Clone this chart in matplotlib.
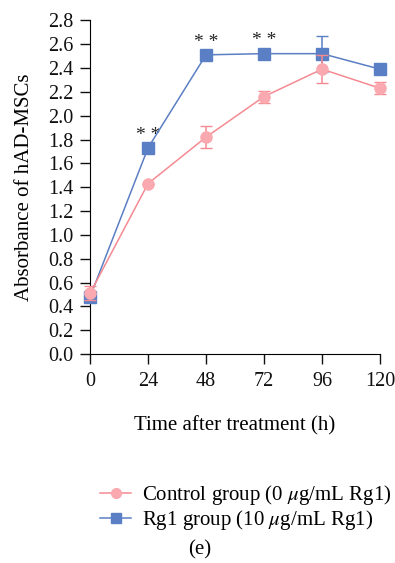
import numpy as np
import matplotlib
matplotlib.use("Agg")
import matplotlib.pyplot as plt
from matplotlib.lines import Line2D

plt.rcParams['font.family'] = ['Liberation Serif', 'DejaVu Serif']
plt.rcParams['mathtext.fontset'] = 'stix'

hours = [0, 24, 48, 72, 96, 120]
control = [0.51, 1.43, 1.82, 2.16, 2.39, 2.23]
control_err = [0.06, 0.0, 0.09, 0.05, 0.12, 0.05]
rg1 = [0.48, 1.73, 2.51, 2.52, 2.52, 2.39]
rg1_err = [0.0, 0.0, 0.0, 0.0, 0.15, 0.0]
stars_at = [24, 48, 72]
yticks = [0.0, 0.2, 0.4, 0.6, 0.8, 1.0, 1.2, 1.4, 1.6, 1.8, 2.0, 2.2, 2.4, 2.6, 2.8]

blue = '#5b7fc4'
pink_line = '#f58a92'
pink_mark = '#f9a9af'

fig = plt.figure(figsize=(3.95, 5.63), dpi=100)
ax = fig.add_axes([0.228, 0.371, 0.734, 0.593])

ax.errorbar(hours, rg1, yerr=rg1_err, color=blue, lw=1.1, marker='s', ms=8.5,
            mfc=blue, mec=blue, capsize=4, elinewidth=1.1, zorder=3, clip_on=False)
ax.errorbar(hours, control, yerr=control_err, color=pink_line, lw=1.1, marker='o', ms=8,
            mfc=pink_mark, mec=pink_mark, capsize=4, elinewidth=1.1, zorder=4, clip_on=False)

for h in stars_at:
    i = hours.index(h)
    ax.text(h, rg1[i] + 0.035, '* *', ha='center', va='bottom', fontsize=14, color='#222222')

ax.set_xlim(0, 120)
ax.set_ylim(0, 2.8)
ax.set_xticks(hours)
ax.set_yticks(yticks)
ax.set_yticklabels(['%.1f' % v for v in yticks])
ax.spines['top'].set_visible(False)
ax.spines['right'].set_visible(False)
ax.tick_params(direction='out', length=7, width=1, labelsize=14.5, colors='#111111')
ax.tick_params(axis='x', pad=6)
ax.tick_params(axis='y', pad=5)
ax.set_ylabel('Absorbance of hAD-MSCs', fontsize=15, labelpad=10)
ax.set_xlabel('Time after treatment (h)', fontsize=15, labelpad=18)

handles = [Line2D([], [], color=pink_line, lw=1.1, marker='o', ms=7, mfc=pink_mark, mec=pink_mark),
           Line2D([], [], color=blue, lw=1.1, marker='s', ms=7.5, mfc=blue, mec=blue)]
labels = ['Control group (0 $\\mu$g/mL Rg1)', 'Rg1 group (10 $\\mu$g/mL Rg1)']
fig.legend(handles, labels, loc='upper left', bbox_to_anchor=(0.253, 0.142), frameon=False,
           fontsize=15, handlelength=1.5, handletextpad=0.5, labelspacing=0.05,
           borderpad=0, borderaxespad=0)
fig.text(0.506, 0.023, '(e)', ha='center', va='center', fontsize=15)

fig.savefig('out.png', dpi=100)
